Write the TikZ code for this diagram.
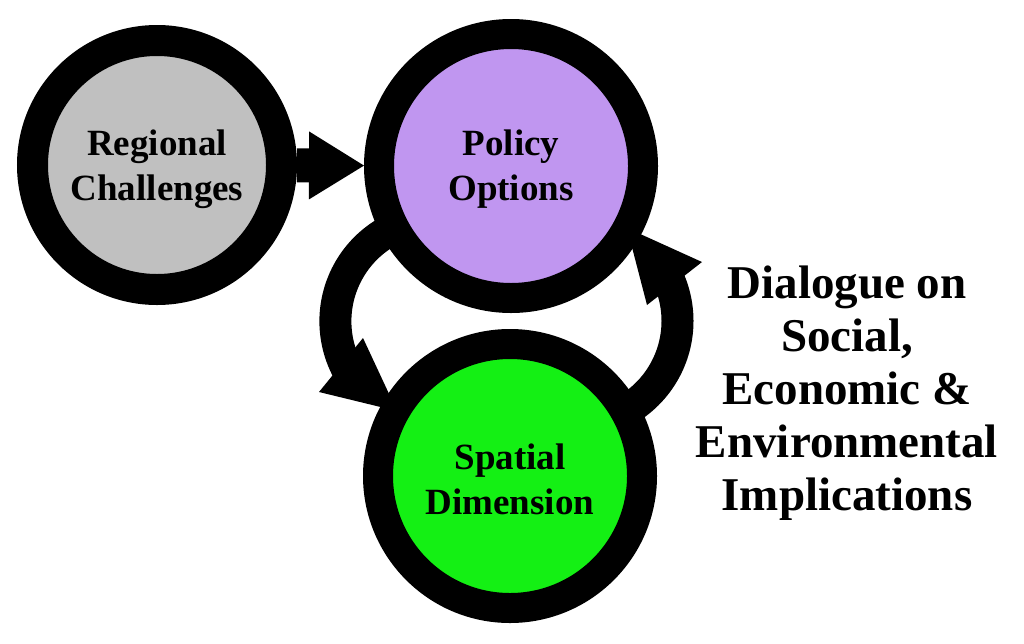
\documentclass[tikz,border=0pt]{standalone}
\usepackage{fontspec}
\setmainfont{Liberation Serif}
\usetikzlibrary{arrows.meta,calc}
\definecolor{rgray}{RGB}{192,192,192}
\definecolor{ppurple}{RGB}{192,150,240}
\definecolor{sgreen}{RGB}{20,240,20}
\pgfdeclarelayer{bg}
\pgfsetlayers{bg,main}
\begin{document}
\begin{tikzpicture}[x=1pt,y=1pt,
  bub/.style={circle,draw=black,inner sep=0pt},
  ctext/.style={align=center,inner sep=0pt,font=\bfseries\fontsize{37}{45}\selectfont},
  rtext/.style={align=center,inner sep=0pt,font=\bfseries\fontsize{47}{53}\selectfont},
  band/.style={draw=black,line width=32pt},
  head/.style={fill=black},
  straight/.style={draw=black,line width=34pt,-{Triangle[length=55pt,width=68pt,line width=0pt]}}
]
\useasboundingbox (0,0) rectangle (1024,-643);
\node[bub,fill=rgray,line width=31pt,minimum size=249pt] (R) at (157,-165) {};
\node[bub,fill=ppurple,line width=30pt,minimum size=264pt] (P) at (511,-166) {};
\node[bub,fill=sgreen,line width=30pt,minimum size=264pt] (S) at (510,-476) {};
\node[ctext] (Rt) at ([yshift=-4pt]R.center) {Regional\\Challenges};
\node[ctext] (Pt) at ([yshift=-3pt]P.center) {Policy\\Options};
\node[ctext] (St) at ([yshift=-3pt]S.center) {Spatial\\Dimension};
\node[rtext] (D) at (847,-393) {Dialogue on\\Social,\\Economic \&\\Environmental\\Implications};
\begin{pgfonlayer}{bg}
\draw[straight] (R) -- (P);
\draw[band] ($(P.center)+(208:137)$) arc[start angle=118,end angle=210,radius=103] coordinate (lend);
\fill[head] (319,-392) coordinate (lb1) -- (363,-338) coordinate (lb2) -- (397,-411) coordinate (ltip) -- cycle;
\draw[band] ($(S.center)+(29.6:129.8)$) arc[start angle=-62,end angle=30,radius=103] coordinate (rend);
\fill[head] (702,-262) coordinate (rb1) -- (647,-305) coordinate (rb2) -- (627,-228) coordinate (rtip) -- cycle;
\end{pgfonlayer}
\end{tikzpicture}
\end{document}
